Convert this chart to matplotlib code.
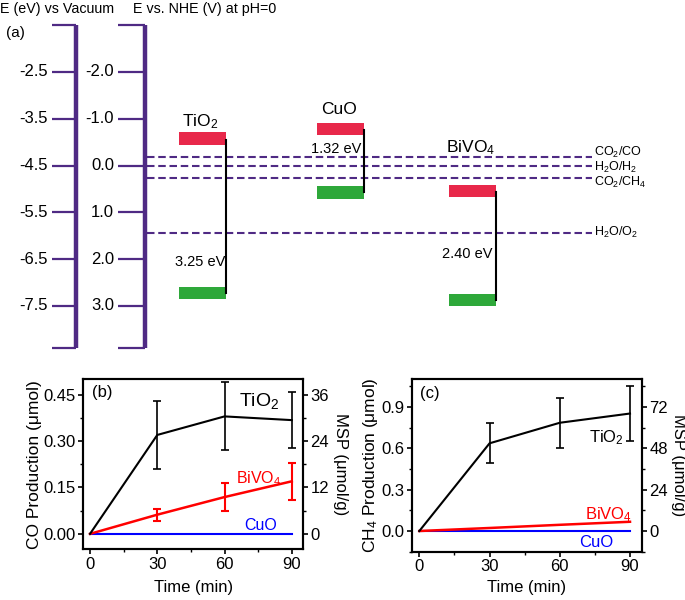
import numpy as np
import matplotlib.pyplot as plt
from matplotlib.ticker import MultipleLocator

plt.rcParams['font.family'] = ['Liberation Sans', 'DejaVu Sans']
plt.rcParams['mathtext.default'] = 'regular'

# (a) band diagram data, potentials in V vs NHE
vac_ticks = [-2.5, -3.5, -4.5, -5.5, -6.5, -7.5]
nhe_ticks = [-2.0, -1.0, 0.0, 1.0, 2.0, 3.0]
materials = ['TiO$_2$', 'CuO', 'BiVO$_4$']
cb = [-0.58, -0.79, 0.54]
vb = [2.72, 0.575, 2.87]
gap_labels = ['3.25 eV', '1.32 eV', '2.40 eV']
redox_names = ['CO$_2$/CO', 'H$_2$O/H$_2$', 'CO$_2$/CH$_4$', 'H$_2$O/O$_2$']
redox_pot = [-0.19, 0.0, 0.27, 1.43]

# (b), (c) production vs time
time = [0, 30, 60, 90]
co_tio2 = [0, 0.32, 0.38, 0.368]
co_tio2_err = [0, 0.11, 0.11, 0.09]
co_bivo4 = [0, 0.062, 0.119, 0.170]
co_bivo4_err = [0, 0.02, 0.045, 0.06]
co_cuo = [0, 0, 0, 0]
ch4_tio2 = [0, 0.636, 0.785, 0.852]
ch4_tio2_err = [0, 0.146, 0.18, 0.2]
ch4_bivo4 = [0, 0.022, 0.045, 0.067]
ch4_cuo = [0, 0, 0, 0]
msp_factor = 80

purple = '#4f2a84'
red_band = '#e8284a'
green_band = '#2ea83a'

fig = plt.figure(figsize=(6.85, 6.0), dpi=100)

# ---------- panel (a) ----------
ax = fig.add_axes([0, 0.4, 1, 0.6])
ax.set_xlim(0, 685)
ax.set_ylim(4.154, -3.538)
ax.axis('off')

# vacuum scale and NHE scale
for xa, x0, ticks, labs, lx in [(76, 52, [-v - 4.5 for v in vac_ticks], vac_ticks, 48),
                                (145, 118, nhe_ticks, nhe_ticks, 114)]:
    ax.plot([xa, xa], [-3.0, 3.9], color=purple, lw=3.2, solid_capstyle='butt')
    ax.hlines([-3.0, 3.9], x0, xa, color=purple, lw=1.6)
    ax.hlines(ticks, x0, xa, color=purple, lw=1.6)
    for t, l in zip(ticks, labs):
        ax.text(lx, t, '%.1f' % l, ha='right', va='center', fontsize=12)

# redox potentials
label_shift = [-0.1, 0.03, 0.09, 0.0]
for p, name, s in zip(redox_pot, redox_names, label_shift):
    ax.plot([147, 592], [p, p], color=purple, lw=1.5, dashes=(3.6, 1.8))
    ax.text(594, p + s, name, ha='left', va='center', fontsize=9)

# bands
band_x = [202.5, 341, 472.5]
name_y = [-0.93, -1.19, -0.38]
gap_xy = [(200, 2.06), (336, -0.35), (467, 1.89)]
for i in range(3):
    ax.bar(band_x[i], 0.26, bottom=cb[i] - 0.13, width=47, color=red_band)
    ax.bar(band_x[i], 0.26, bottom=vb[i] - 0.13, width=47, color=green_band)
    xr = band_x[i] + 23.5
    ax.plot([xr, xr], [cb[i] + 0.03, vb[i]], color='black', lw=1.5)
    ax.text(band_x[i] - 2, name_y[i], materials[i], ha='center', va='center', fontsize=12.5)
    ax.text(gap_xy[i][0], gap_xy[i][1], gap_labels[i], ha='center', va='center', fontsize=10.5)

fig.text(0.0, 1 - 9 / 600, 'E (eV) vs Vacuum', ha='left', va='center', fontsize=10.3)
fig.text(133 / 685, 1 - 9 / 600, 'E vs. NHE (V) at pH=0', ha='left', va='center', fontsize=10.3)
fig.text(6 / 685, 1 - 33 / 600, '(a)', ha='left', va='center', fontsize=11)


def style(a):
    for s in a.spines.values():
        s.set_linewidth(1.5)
    a.tick_params(which='major', length=3.5, width=1.2, labelsize=12, pad=2)
    a.tick_params(which='minor', length=2.2, width=1.0)


# ---------- panel (b) ----------
axb = fig.add_axes([0.1216, 0.0845, 0.3207, 0.2833])
axb.plot(time, co_cuo, color='blue', lw=1.5)
axb.errorbar(time, co_bivo4, yerr=co_bivo4_err, color='red', lw=1.8, capsize=3,
             capthick=1.5, elinewidth=1.5, errorevery=(1, 1))
axb.errorbar(time, co_tio2, yerr=co_tio2_err, color='black', lw=1.5, capsize=3,
             capthick=1.2, elinewidth=1.2, errorevery=(1, 1))
axb.set_xlim(-3, 95)
axb.set_ylim(-0.05, 0.5)
axb.set_xticks(time)
axb.xaxis.set_minor_locator(MultipleLocator(15))
axb.set_yticks([0, 0.15, 0.30, 0.45])
axb.set_yticklabels(['0.00', '0.15', '0.30', '0.45'])
axb.yaxis.set_minor_locator(MultipleLocator(0.075))
axb.set_xlabel('Time (min)', fontsize=12, labelpad=6)
axb.set_ylabel('CO Production (μmol)', fontsize=12.5, labelpad=1)
style(axb)
tb = axb.twinx()
tb.set_ylim(-0.05 * msp_factor, 0.5 * msp_factor)
tb.set_yticks([0, 12, 24, 36])
tb.yaxis.set_minor_locator(MultipleLocator(6))
tb.set_ylabel('MSP (μmol/g)', fontsize=12, rotation=270, va='bottom', labelpad=3)
style(tb)
axb.text(0.04, 0.92, '(b)', transform=axb.transAxes, fontsize=12, va='center')
axb.text(75.4, 0.43, 'TiO$_2$', fontsize=14, ha='center', va='center')
axb.text(75.4, 0.179, 'BiVO$_4$', fontsize=11.5, ha='center', va='center', color='red')
axb.text(76.2, 0.026, 'CuO', fontsize=11.5, ha='center', va='center', color='blue')

# ---------- panel (c) ----------
axc = fig.add_axes([0.6019, 0.0805, 0.3349, 0.2873])
axc.plot(time, ch4_cuo, color='blue', lw=1.5)
axc.plot(time, ch4_bivo4, color='red', lw=1.8)
axc.errorbar(time, ch4_tio2, yerr=ch4_tio2_err, color='black', lw=1.5, capsize=3,
             capthick=1.2, elinewidth=1.2, errorevery=(1, 1))
axc.set_xlim(-3, 95)
axc.set_ylim(-0.15, 1.1)
axc.set_xticks(time)
axc.xaxis.set_minor_locator(MultipleLocator(15))
axc.set_yticks([0, 0.3, 0.6, 0.9])
axc.yaxis.set_minor_locator(MultipleLocator(0.15))
axc.set_xlabel('Time (min)', fontsize=12, labelpad=4)
axc.set_ylabel('CH$_4$ Production (μmol)', fontsize=12.5, labelpad=1)
style(axc)
tc = axc.twinx()
tc.set_ylim(-0.15 * msp_factor, 1.1 * msp_factor)
tc.set_yticks([0, 24, 48, 72])
tc.yaxis.set_minor_locator(MultipleLocator(12))
tc.set_ylabel('MSP (μmol/g)', fontsize=12, rotation=270, va='bottom', labelpad=2)
style(tc)
axc.text(0.034, 0.92, '(c)', transform=axc.transAxes, fontsize=12, va='center')
axc.text(80, 0.674, 'TiO$_2$', fontsize=12, ha='center', va='center')
axc.text(80.8, 0.12, 'BiVO$_4$', fontsize=12, ha='center', va='center', color='red')
axc.text(75.7, -0.081, 'CuO', fontsize=12, ha='center', va='center', color='blue')

fig.savefig('out.png', dpi=100)
